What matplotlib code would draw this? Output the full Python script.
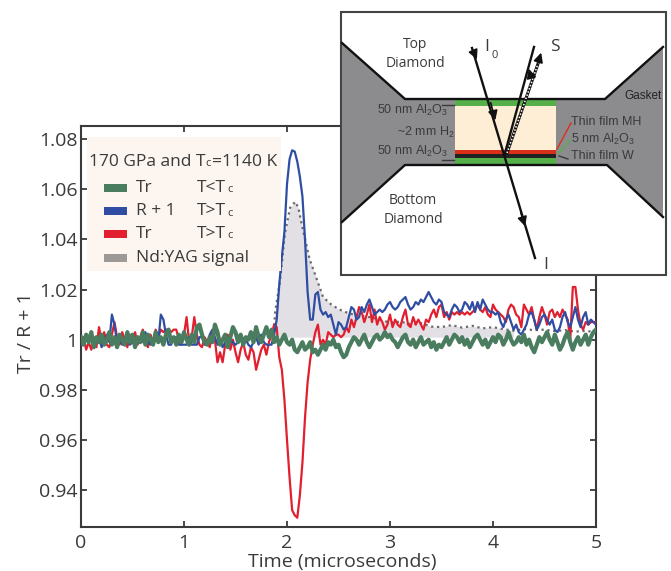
import numpy as np
from matplotlib import pyplot as plt
from matplotlib.patches import Polygon, Rectangle

plt.rcParams['font.family'] = ['Open Sans', 'DejaVu Sans']
plt.rcParams['mathtext.default'] = 'regular'

# values, one row = 0.5 microseconds
time_step = 0.025
tr_below = [1.001, .998, 1.002, .999, 1.003, .997, 1.001, .999, 1.002, .998, 1.000, 1.003, .998, 1.001, .997, 1.002, 1.000, .998, 1.003, .999,
            1.002, .997, 1.001, .999, 1.003, .998, 1.002, 1.000, .998, 1.003, .999, 1.001, .998, 1.002, 1.004, .999, 1.001, .998, 1.002, .999,
            1.003, 1.000, .998, 1.002, .999, 1.005, 1.006, 1.002, .999, .998, 1.001, .999, 1.006, 1.003, .998, 1.000, 1.002, .997, 1.001, 1.005,
            1.003, .999, 1.002, .998, 1.001, 1.000, 1.003, .999, 1.005, 1.001, .999, 1.002, 1.005, 1.001, 1.004, .999, 1.001, .998, 1.000, 1.002,
            .999, .998, 1.000, .996, .995, .997, .999, .996, .997, .999, .995, .996, .994, .996, .998, .996, .999, .998, 1.000, .997,
            .998, .995, .993, .994, .997, .999, 1.001, 1.000, .998, 1.000, 1.002, .999, .997, .999, 1.001, 1.002, 1.000, 1.001, 1.003, 1.001,
            1.002, 1.000, .999, .997, .999, 1.001, 1.002, .999, .998, 1.000, .997, .999, 1.001, .998, .999, 1.000, .997, .999, .996, .998,
            .997, .999, 1.001, .998, 1.000, 1.002, 1.001, .999, 1.001, .998, 1.000, .997, .999, 1.001, 1.002, 1.000, .998, 1.000, .997, .999,
            1.001, .999, 1.002, 1.001, .998, 1.000, 1.003, 1.000, .998, .999, 1.001, .999, 1.002, .998, 1.000, .997, .995, .998, 1.001, .999,
            1.001, 1.003, 1.000, .998, 1.002, .999, .996, .998, 1.001, 1.003, .999, .996, .999, 1.001, .998, 1.000, 1.002, .998, 1.001, 1.003,
            1.004]
r_above = [.998, .999, 1.002, .999, 1.003, .998, 1.000, 1.001, .997, .999, 1.002, .999, 1.010, 1.006, .999, 1.001, .998, 1.000, 1.002, .998,
           .999, .998, 1.001, 1.000, .999, 1.003, .999, .998, 1.000, 1.002, .999, 1.010, 1.008, 1.002, .998, .998, 1.001, 1.001, .998, .998,
           .998, .998, 1.001, .998, .998, .998, 1.001, 1.001, .998, .998, 1.002, 1.004, 1.001, .998, 1.000, .997, .999, .998, 1.000, .999,
           .998, .999, 1.001, .998, 1.000, .998, .997, .999, 1.001, .998, 1.002, .999, .998, .998, .998, 1.002, 1.008, 1.022, 1.033, 1.043,
           1.062, 1.072, 1.0755, 1.075, 1.071, 1.065, 1.057, 1.040, 1.019, 1.008, 1.008, 1.018, 1.019, 1.012, 1.010, 1.011, 1.009, 1.010, 1.006, 1.002,
           1.007, 1.006, 1.004, 1.005, 1.009, 1.013, 1.012, 1.008, 1.009, 1.013, 1.011, 1.014, 1.016, 1.013, 1.010, 1.011, 1.012, 1.011, 1.012, 1.014,
           1.015, 1.013, 1.012, 1.013, 1.015, 1.016, 1.017, 1.014, 1.012, 1.013, 1.015, 1.014, 1.016, 1.015, 1.017, 1.019, 1.017, 1.015, 1.014, 1.016,
           1.015, 1.011, 1.010, 1.009, 1.012, 1.014, 1.013, 1.011, 1.012, 1.015, 1.014, 1.012, 1.015, 1.011, 1.015, 1.012, 1.016, 1.014, 1.012, 1.011,
           1.011, 1.010, 1.011, 1.007, 1.005, 1.008, 1.010, 1.007, 1.004, 1.006, 1.003, 1.002, 1.004, 1.006, 1.010, 1.011, 1.008, 1.004, 1.006, 1.009,
           1.010, 1.008, 1.006, 1.008, 1.004, 1.003, 1.005, 1.009, 1.011, 1.007, 1.005, 1.009, 1.013, 1.008, 1.005, 1.009, 1.011, 1.006, 1.008, 1.007,
           1.006]
tr_above = [.998, 1.001, .996, .999, .996, 1.001, .997, 1.005, .999, 1.003, .998, .997, 1.002, 1.007, 1.001, .998, 1.003, 1.000, .997, 1.002,
            .999, 1.003, .998, 1.001, 1.004, .999, .997, 1.002, .999, 1.004, 1.001, 1.004, 1.003, 1.004, 1.004, 1.003, 1.004, 1.004, 1.000, .998,
            1.002, 1.009, .999, 1.001, 1.009, 1.002, .998, .997, 1.001, .999, .997, 1.003, 1.000, .991, .995, .991, .998, 1.002, .996, 1.000,
            .995, .991, .996, .999, .994, .992, .997, .995, .988, .992, .996, .998, .994, .999, 1.002, 1.006, 1.005, .993, .988, .976,
            .960, .945, .932, .930, .929, .938, .951, .969, .983, .992, .998, 1.003, 1.006, .998, 1.000, .998, 1.003, 1.002, 1.001, 1.002,
            1.002, 1.001, 1.002, 1.005, 1.003, 1.008, 1.005, 1.009, 1.013, 1.011, 1.007, 1.010, 1.014, 1.007, 1.012, 1.006, 1.009, 1.007, 1.004, 1.006,
            1.010, 1.005, 1.008, 1.006, 1.005, 1.009, 1.012, 1.006, 1.005, 1.009, 1.006, 1.008, 1.006, 1.004, 1.008, 1.007, 1.010, 1.012, 1.009, 1.013,
            1.014, 1.009, 1.011, 1.008, 1.011, 1.010, 1.011, 1.010, 1.011, 1.010, 1.011, 1.010, 1.011, 1.012, 1.014, 1.012, 1.011, 1.013, 1.010, 1.009,
            1.014, 1.012, 1.011, 1.010, 1.009, 1.007, 1.012, 1.014, 1.013, 1.010, 1.009, 1.005, 1.014, 1.012, 1.010, 1.013, 1.008, 1.004, 1.009, 1.013,
            1.010, 1.006, 1.011, 1.012, 1.009, 1.011, 1.009, 1.012, 1.010, 1.008, 1.000, 1.021, 1.021, 1.012, 1.006, 1.004, 1.007, 1.006, 1.007, 1.007,
            1.007]
yag_time = [1.87, 1.884, 1.93, 1.98, 2.03, 2.08, 2.11, 2.155, 2.22, 2.29, 2.35, 2.43, 2.51, 2.6, 2.7, 2.8, 2.9, 3.0, 3.1, 3.2,
            3.3, 3.4, 3.5, 3.6, 3.7, 3.8, 3.9, 4.0, 4.1, 4.2, 4.3, 4.4, 4.5, 4.6, 4.7, 4.8, 4.9, 5.0]
yag_signal = [1.001, 1.0108, 1.0227, 1.0426, 1.0526, 1.055, 1.0526, 1.0438, 1.032, 1.024, 1.017, 1.014, 1.012, 1.0105, 1.0095, 1.009, 1.008, 1.0068, 1.0072, 1.0062,
              1.0066, 1.0052, 1.005, 1.0058, 1.0048, 1.0055, 1.0045, 1.005, 1.0042, 1.0036, 1.0042, 1.0038, 1.004, 1.0034, 1.0038, 1.0032, 1.0035, 1.003]

y_ticks = [0.94, 0.96, 0.98, 1, 1.02, 1.04, 1.06, 1.08]
y_tick_labels = ['0.94', '0.96', '0.98', '1', '1.02', '1.04', '1.06', '1.08']
x_ticks = [0, 1, 2, 3, 4, 5]
yag_base = 1.001
yag_fill_end = 4.2

legend_title = ['170 GPa and T', 'c', '=1140 K']
legend_names = ['Tr', 'R + 1', 'Tr', 'Nd:YAG signal']
legend_cond = ['T<T', 'T>T', 'T>T', '']
GREEN, BLUE, RED, GREY = '#4a7c5f', '#2f4da3', '#e21f2e', '#9c9996'
legend_colors = [GREEN, BLUE, RED, GREY]
DARK = '#3a3a3a'

time = np.arange(len(tr_below)) * time_step

fig = plt.figure(figsize=(6.71, 5.71), dpi=100)
ax = fig.add_axes([81 / 671, 1 - 527 / 571, 515 / 671, 401 / 571])
ax.fill_between(yag_time, yag_base, yag_signal, where=np.array(yag_time) <= yag_fill_end,
                color='#e2e0e4', lw=0, zorder=1)
ax.plot(yag_time, yag_signal, color='#6a6a6a', ls=':', lw=1.6, zorder=2)
ax.plot(time, tr_above, color=RED, lw=1.6, zorder=3)
ax.plot(time, r_above, color=BLUE, lw=1.6, zorder=4)
ax.plot(time, tr_below, color=GREEN, lw=3, zorder=5)
ax.set_xlim(0, 5)
ax.set_ylim(0.9253, 1.0852)
ax.set_xticks(x_ticks)
ax.set_yticks(y_ticks)
ax.set_yticklabels(y_tick_labels)
ax.tick_params(direction='in', length=4.5, width=1.3, color=DARK, labelcolor=DARK,
               labelsize=14, top=True, right=True)
ax.tick_params(axis='x', pad=5)
ax.tick_params(axis='y', pad=2.5)
for s in ax.spines.values():
    s.set_linewidth(1.5)
    s.set_color(DARK)
ax.set_xlabel('Time (microseconds)', fontsize=14, color=DARK)
ax.set_ylabel('Tr / R + 1', fontsize=14, color=DARK)
ax.xaxis.set_label_coords(0.507, -0.066)
ax.yaxis.set_label_coords(-0.09, 0.484)

# legend and inset are placed in pixels of the reference
over = fig.add_axes([0, 0, 1, 1], zorder=10)
over.set_xlim(0, 671)
over.set_ylim(571, 0)
over.axis('off')


def txt(x, y, s, size=11, **kw):
    kw.setdefault('va', 'center')
    kw.setdefault('color', DARK)
    over.text(x, y, s, fontsize=size, **kw)


over.add_patch(Rectangle((87, 137), 194, 134, fc='#fdf6f0', ec='none'))
txt(89, 162, legend_title[0], 12.5)
txt(205, 164, legend_title[1], 8)
txt(212, 162, legend_title[2], 12.5)
for y, name, cond, col in zip([188, 211, 234, 258], legend_names, legend_cond, legend_colors):
    over.add_patch(Rectangle((104, y - 4), 23, 8, fc=col, ec='none'))
    txt(136, y, name, 12.5)
    if cond:
        txt(197, y, cond, 12.5)
        txt(227, y + 2, 'c', 8)

# inset: zoomed sketch of the sample cell
over.add_patch(Rectangle((340.5, 12), 325, 263, fc='white', ec='#444444', lw=1.5))
over.add_patch(Polygon([(342, 43), (405, 99), (455, 99), (455, 165), (405, 165), (342, 222)], fc='#8c8c8e', ec='none'))
over.add_patch(Polygon([(556, 99), (605, 99), (663, 47), (663, 217), (607, 165), (556, 165)], fc='#8c8c8e', ec='none'))
over.add_patch(Rectangle((455, 106), 101, 44, fc='#fdeed5', ec='none'))
over.add_patch(Rectangle((455, 100), 101, 6, fc='#55b04a', ec='none'))
over.add_patch(Rectangle((455, 150), 101, 4, fc='#d9301a', ec='none'))
over.add_patch(Rectangle((455, 154), 101, 4, fc='#222222', ec='none'))
over.add_patch(Rectangle((455, 158), 101, 6, fc='#55b04a', ec='none'))
over.plot([342, 405, 605, 663], [43, 99, 99, 47], color='#111111', lw=1.7)
over.plot([342, 405, 607, 663], [222, 165, 165, 217], color='#111111', lw=1.7)

over.plot([472, 535], [48, 258], color='#111111', lw=1.7)
over.plot([505, 534], [153, 47], color='#111111', lw=1.7)
over.plot([507, 540], [153, 58], color='#111111', lw=2.2)
over.plot([507, 540], [153, 58], color='white', lw=1.1, ls=(0, (1, 1.2)))
for (x0, y0, x1, y1) in [(472, 48, 478, 62), (490, 100, 496, 123), (520, 210, 526, 229),
                         (532, 80, 528, 66), (537, 66, 542, 50)]:
    over.annotate('', xy=(x1, y1), xytext=(x0, y0),
                  arrowprops=dict(arrowstyle='-|>', color='#111111', lw=1.2, mutation_scale=14))
over.plot([442, 454], [105, 105], color=DARK, lw=1)
over.plot([442, 454], [160, 160], color=DARK, lw=1)
over.plot([557, 571], [149, 123], color='#d9301a', lw=1)
over.plot([559, 570], [153, 140], color='#55b04a', lw=1)
over.plot([559, 568], [156, 159], color=DARK, lw=1)

narrow = 'Liberation Sans'
txt(415, 54, 'Top\nDiamond', 10, ha='center', linespacing=1.35)
txt(413, 210, 'Bottom\nDiamond', 10, ha='center', linespacing=1.35)
txt(484, 47, 'I', 12.5)
txt(492, 56, '0', 8)
txt(550, 47, 'S', 12.5)
txt(543, 265, 'I', 12.5)
txt(624, 96, 'Gasket', 8.5, family=narrow, color='#222222')
txt(377, 110, '50 nm Al$_2$O$_3$', 9, family=narrow)
txt(397, 132, '~2 mm H$_2$', 9, family=narrow)
txt(377, 151, '50 nm Al$_2$O$_3$', 9, family=narrow)
txt(571, 122, 'Thin film MH', 9, family=narrow)
txt(571, 139, '5 nm Al$_2$O$_3$', 9, family=narrow)
txt(571, 156, 'Thin film W', 9, family=narrow)

fig.savefig('out.png', dpi=100)
